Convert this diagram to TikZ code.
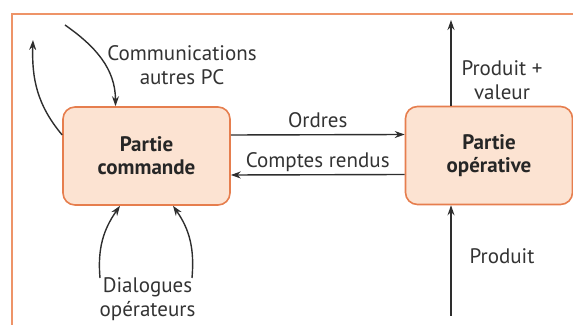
\documentclass[tikz,border=0pt]{standalone}
\usepackage{fontspec}
\setmainfont{PT Sans}
\usetikzlibrary{arrows.meta,positioning}
\definecolor{frameOrange}{HTML}{EE9468}
\definecolor{partFill}{HTML}{FCE3D2}
\definecolor{partLine}{HTML}{E67E4E}
\definecolor{flowGrey}{HTML}{2E2E2E}
\tikzset{
  partbox/.style={draw=partLine, fill=partFill, line width=1.6pt,
        rounded corners=12pt, minimum width=167pt, minimum height=98pt,
        align=center, text=black!85,
        font=\fontsize{21}{23}\selectfont\bfseries},
  flow/.style={-{Stealth[length=10pt,width=7pt]}, line width=1.4pt, draw=flowGrey},
  flab/.style={font=\fontsize{21}{23.5}\selectfont, text=black!80,
        align=center, inner sep=1pt},
  frame/.style={draw=frameOrange, line width=2pt}
}

\begin{document}
\begin{tikzpicture}[x=1pt,y=1pt]
\useasboundingbox (0,0) rectangle (573,324);
\draw[frame] (12,-5) -- (12,310) -- (580,310);

\node[partbox] (cmd) at (146.5,168) {Partie\\commande};
\node[partbox] (ope) at (489,168.5) {Partie\\opérative};

% free ends
\coordinate (commsrc) at (65,299);
\coordinate (loopend) at (33,284);
\coordinate (prodout) at (451,304);
\coordinate (prodin) at (451,8);
\coordinate (dialA) at (100,46);
\coordinate (dialB) at (192,46);

\draw[flow] ([yshift=21pt]cmd.east) -- node[flab, above=5pt] {Ordres} ([yshift=21pt]ope.west);
\draw[flow] ([yshift=-19pt]ope.west) -- node[flab, above=1pt] {Comptes rendus} ([yshift=-19pt]cmd.east);

\draw[flow] ([xshift=-38pt]ope.north) -- node[flab, pos=0.3, xshift=51pt] {Produit +\\valeur} (prodout);
\draw[flow] (prodin) -- node[flab, pos=0.54, xshift=51pt] {Produit} ([xshift=-38pt]ope.south);

\draw[flow] (commsrc) to[out=-35, in=90] ([xshift=-31pt]cmd.north);
\draw[flow] ([yshift=21pt]cmd.west) to[out=130, in=-92] (loopend);
\node[flab] (comms) at (182,259) {Communications\\autres PC};

\draw[flow] (dialA) to[out=95, in=-125] ([xshift=-26.5pt]cmd.south);
\draw[flow] (dialB) to[out=85, in=-55] ([xshift=26.5pt]cmd.south);
\node[flab] (dial) at (147.5,25) {Dialogues\\opérateurs};
\end{tikzpicture}
\end{document}
